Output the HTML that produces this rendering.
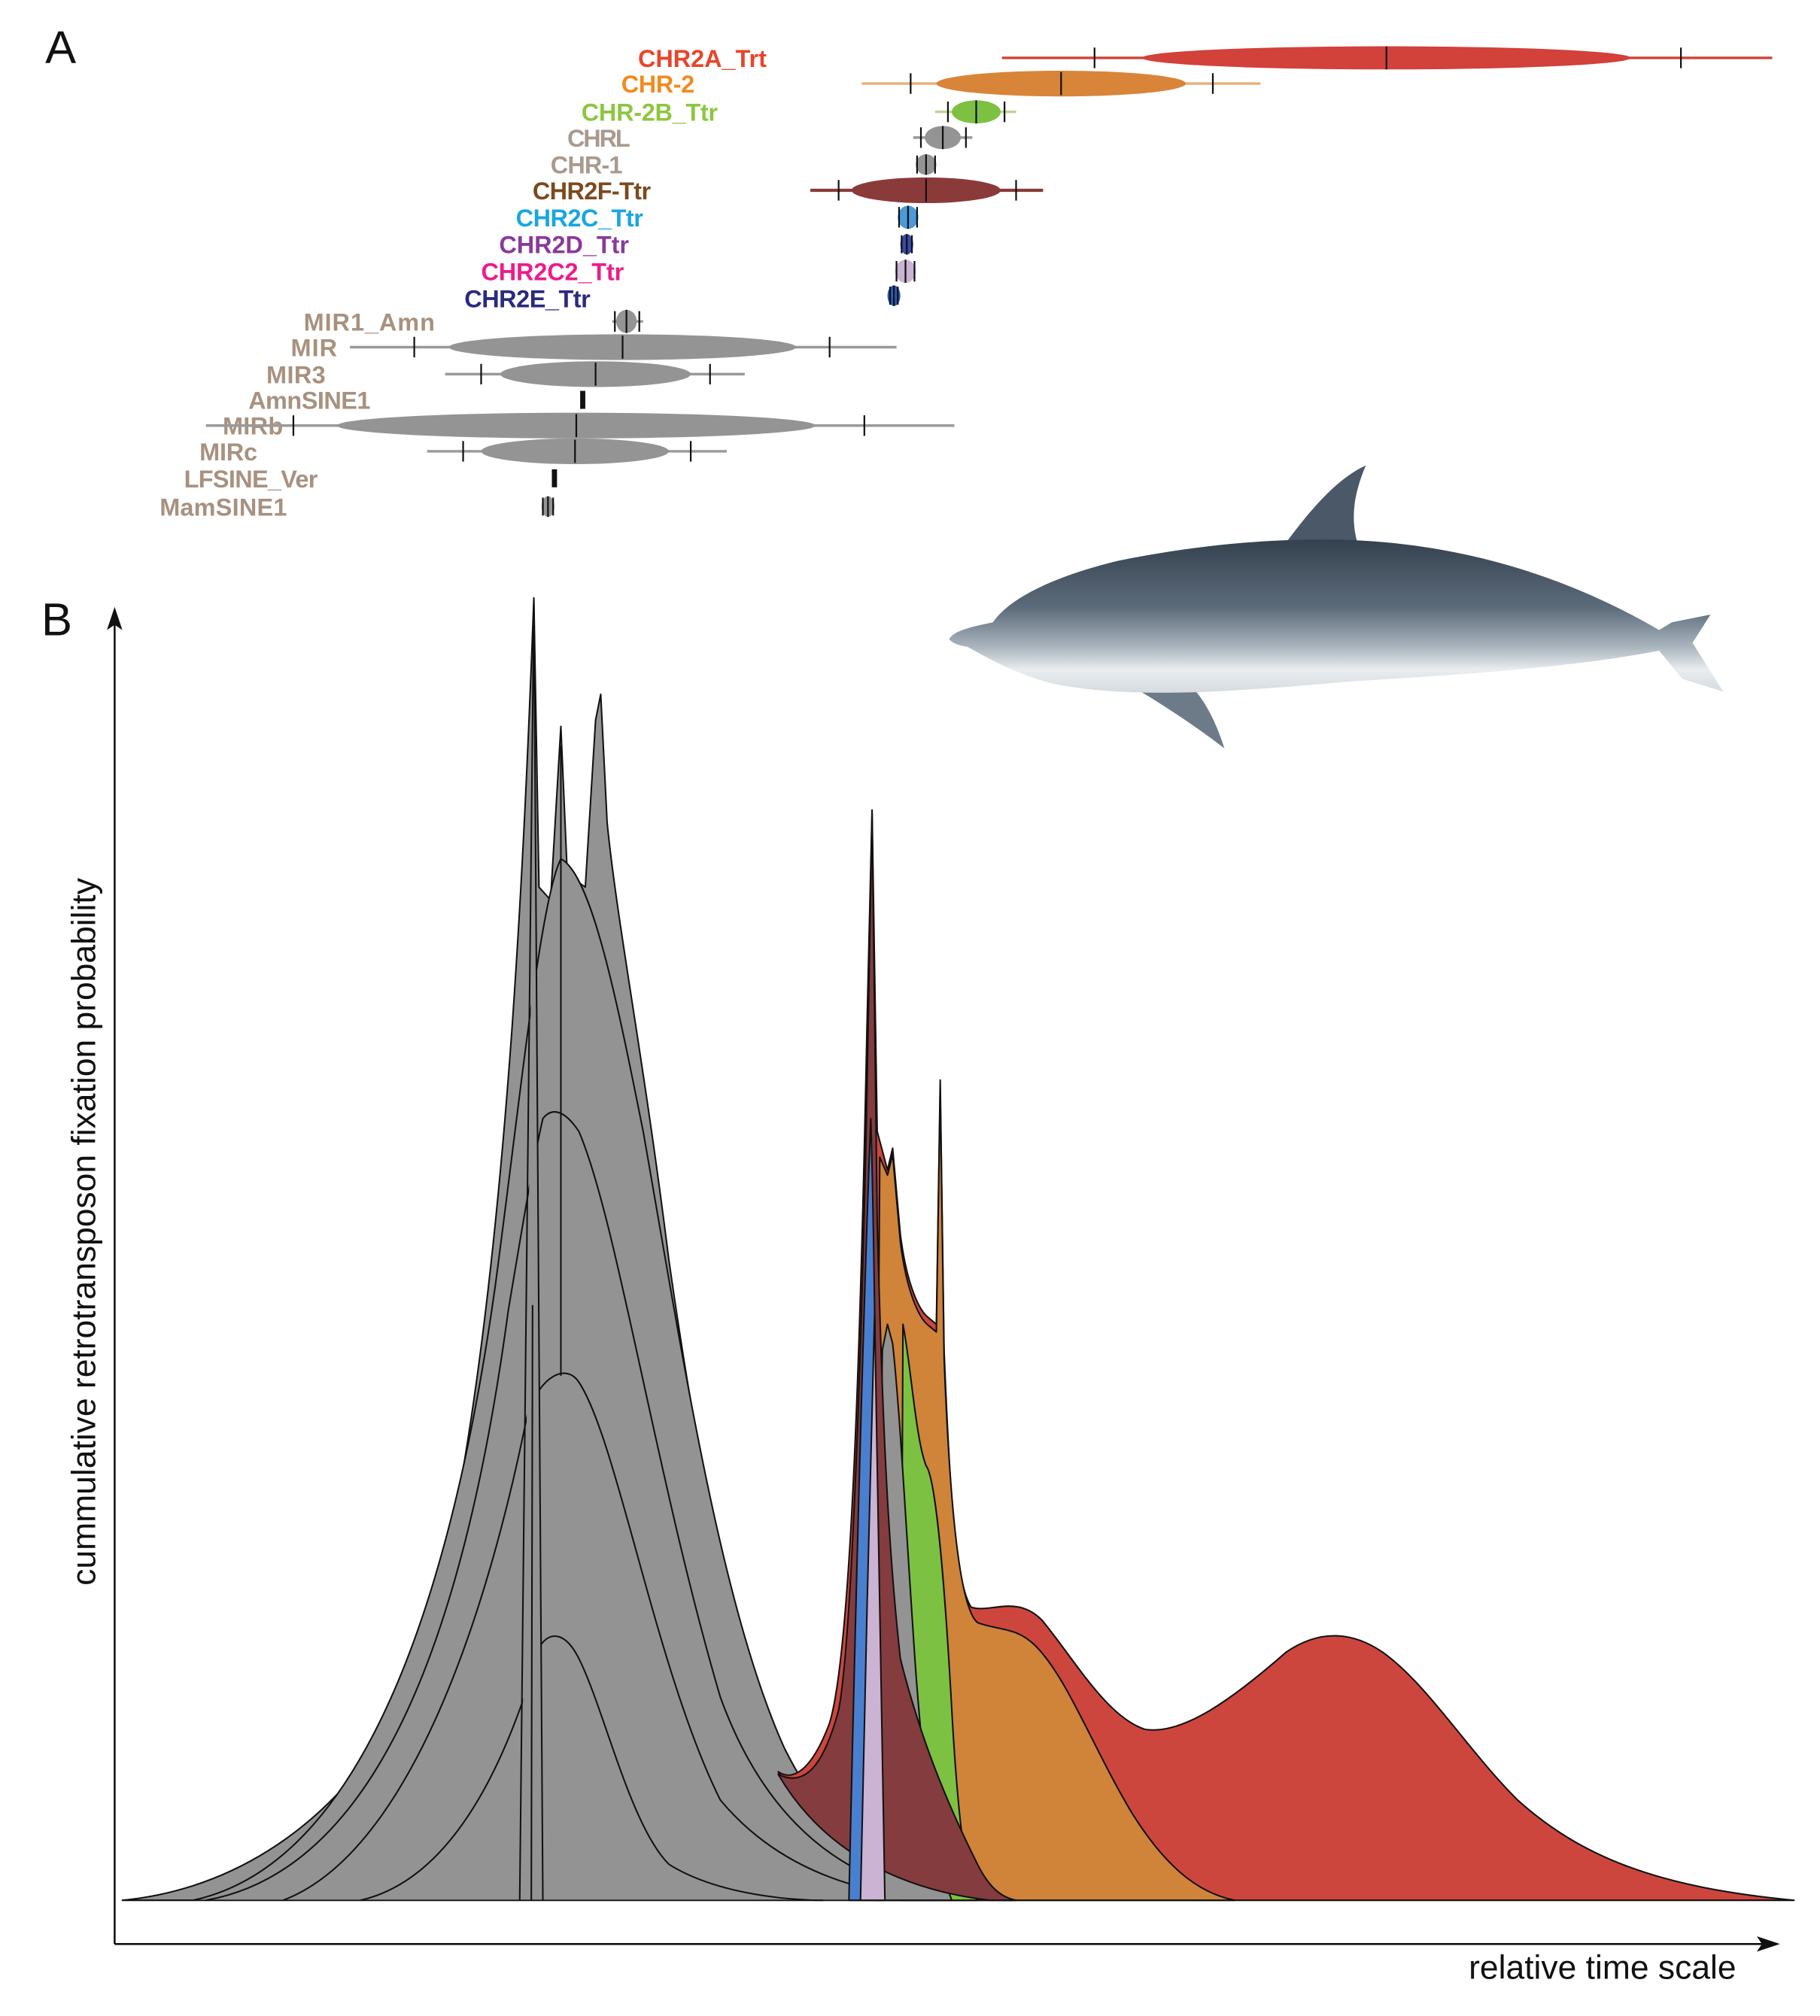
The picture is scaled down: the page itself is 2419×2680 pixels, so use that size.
<!DOCTYPE html>
<html><head><meta charset="utf-8"><style>html,body{margin:0;padding:0;background:#fff}svg{display:block}</style></head>
<body>
<svg width="2419" height="2680" viewBox="0 0 1415 1568" xmlns="http://www.w3.org/2000/svg">
<defs>
<linearGradient id="dg" x1="0" y1="0" x2="0" y2="1">
<stop offset="0" stop-color="#34414f"/><stop offset="0.45" stop-color="#5d6c7b"/><stop offset="0.7" stop-color="#a9b4bd"/><stop offset="0.85" stop-color="#e9edf0"/><stop offset="1" stop-color="#d5dbe0"/>
</linearGradient>
</defs>
<rect width="1415" height="1568" fill="#fff"/>
<text x="35" y="49" font-family="Liberation Sans, sans-serif" font-size="36" fill="#111">A</text>
<text x="32" y="494" font-family="Liberation Sans, sans-serif" font-size="36" fill="#111">B</text>

<g font-family="Liberation Sans, sans-serif" font-weight="bold" font-size="19" text-anchor="end" lengthAdjust="spacingAndGlyphs">
<text x="596" y="52" textLength="100" fill="#e8452a">CHR2A_Trt</text>
<text x="540" y="72" textLength="57" fill="#f08c1e">CHR-2</text>
<text x="558" y="94" textLength="106" fill="#8dc63f">CHR-2B_Ttr</text>
<text x="490" y="114" textLength="49" fill="#a89a8e">CHRL</text>
<text x="484" y="135" textLength="56" fill="#a89a8e">CHR-1</text>
<text x="506" y="155" textLength="92" fill="#7b4a1e">CHR2F-Ttr</text>
<text x="500" y="176" textLength="99" fill="#1aa6e0">CHR2C_Ttr</text>
<text x="489" y="197" textLength="101" fill="#8a3a9a">CHR2D_Ttr</text>
<text x="485" y="218" textLength="111" fill="#ec1c8c">CHR2C2_Ttr</text>
<text x="459" y="239" textLength="98" fill="#2a2a80">CHR2E_Ttr</text>
<g fill="#a8917e">
<text x="338" y="257" textLength="102">MIR1_Amn</text>
<text x="262" y="277" textLength="36">MIR</text>
<text x="253" y="298" textLength="46">MIR3</text>
<text x="288" y="318" textLength="95">AmnSINE1</text>
<text x="220" y="338" textLength="47">MIRb</text>
<text x="200" y="358" textLength="45">MIRc</text>
<text x="247" y="379" textLength="104">LFSINE_Ver</text>
<text x="223" y="401" textLength="99">MamSINE1</text>
</g>
</g>

<g stroke-width="1.3">
<line x1="779" y1="45" x2="1378" y2="45" stroke="#d2413a" stroke-width="2"/>
<ellipse cx="1078" cy="45" rx="190" ry="9" fill="#d2413a"/>
<path d="M851,37v16M1078,36v18M1307,37v16" stroke="#111"/>
<line x1="670" y1="65" x2="980" y2="65" stroke="#e3b276" stroke-width="2"/>
<ellipse cx="825" cy="65" rx="97" ry="10" fill="#d8853a"/>
<path d="M708,57v16M825,56v18M943,57v16" stroke="#111"/>
<line x1="727" y1="87" x2="790" y2="87" stroke="#b8d890" stroke-width="2"/>
<ellipse cx="759" cy="87" rx="19" ry="9" fill="#7dc142"/>
<path d="M737,79v16M759,78v18M781,79v16" stroke="#111"/>
<line x1="710" y1="107" x2="756" y2="107" stroke="#999" stroke-width="2"/>
<ellipse cx="733" cy="107" rx="14" ry="9" fill="#949494"/>
<path d="M716,99v16M733,98v18M751,99v16" stroke="#111"/>
<ellipse cx="720" cy="128" rx="8" ry="8" fill="#949494"/>
<path d="M713,121v14M720,120v16M727,121v14" stroke="#111"/>
<line x1="630" y1="148" x2="811" y2="148" stroke="#8b3a3a" stroke-width="2.5"/>
<ellipse cx="720" cy="148" rx="58" ry="10" fill="#8b3a3a"/>
<path d="M652,140v16M720,139v18M790,140v16" stroke="#111"/>
<ellipse cx="706" cy="169" rx="8" ry="9" fill="#4a9ad8"/>
<path d="M699,161v16M706,160v18M713,161v16" stroke="#111"/>
<ellipse cx="705" cy="190" rx="5" ry="8" fill="#3a4aa8"/>
<path d="M701,183v14M705,182v16M709,183v14" stroke="#111"/>
<ellipse cx="704" cy="211" rx="8" ry="9" fill="#cbb3d3"/>
<path d="M697,203v16M704,202v18M711,203v16" stroke="#111"/>
<ellipse cx="695" cy="230" rx="5" ry="8" fill="#2a5ab8"/>
<path d="M692,223v14M695,222v16M698,223v14" stroke="#111"/>
<line x1="476" y1="250" x2="500" y2="250" stroke="#999" stroke-width="2"/>
<ellipse cx="487" cy="250" rx="8" ry="9" fill="#949494"/>
<path d="M478,242v16M487,241v18M497,242v16" stroke="#111"/>
<line x1="272" y1="270" x2="697" y2="270" stroke="#999" stroke-width="2"/>
<ellipse cx="484" cy="270" rx="135" ry="10" fill="#949494"/>
<path d="M322,262v16M484,261v18M645,262v16" stroke="#111"/>
<line x1="346" y1="291" x2="579" y2="291" stroke="#999" stroke-width="2"/>
<ellipse cx="463" cy="291" rx="74" ry="10" fill="#949494"/>
<path d="M374,283v16M463,282v18M552,283v16" stroke="#111"/>
<rect x="451" y="304" width="4" height="14" fill="#111"/>
<line x1="160" y1="331" x2="742" y2="331" stroke="#999" stroke-width="2"/>
<ellipse cx="448" cy="331" rx="186" ry="10" fill="#949494"/>
<path d="M228,323v16M448,322v18M672,323v16" stroke="#111"/>
<line x1="332" y1="351" x2="565" y2="351" stroke="#999" stroke-width="2"/>
<ellipse cx="447" cy="351" rx="73" ry="10" fill="#949494"/>
<path d="M360,343v16M447,342v18M537,343v16" stroke="#111"/>
<rect x="429" y="365" width="4" height="14" fill="#111"/>
<ellipse cx="426" cy="394" rx="5" ry="8" fill="#949494"/>
<path d="M422,387v14M426,386v16M430,387v14" stroke="#111"/>
</g>

<!-- Dolphin -->
<path d="M1000,422 C1020,395 1040,372 1062,362 C1052,385 1050,405 1056,424 Z" fill="#4a5868"/>
<path d="M870,528 C900,545 930,565 952,582 C945,560 935,540 920,528 Z" fill="#6d7b88"/>
<path d="M738,497 C742,490 758,487 772,484 C785,465 820,448 870,436 C930,424 990,418 1050,420 C1150,424 1230,455 1290,490 L1300,484 L1330,478 L1316,500 L1340,538 L1308,528 L1290,506 C1230,518 1150,524 1050,530 C960,538 880,544 820,532 C790,525 765,510 752,503 C745,502 740,500 738,497 Z" fill="url(#dg)"/>

<g stroke="#111" stroke-width="1.5" fill="none">
<line x1="89" y1="480" x2="89" y2="1512"/>
<line x1="89" y1="1512" x2="1375" y2="1512"/>
</g>
<path d="M89,472 L83,490 L89,486 L95,490 Z" fill="#111"/>
<path d="M1384,1512 L1366,1506 L1370,1512 L1366,1518 Z" fill="#111"/>
<text x="1350" y="1539" text-anchor="end" font-family="Liberation Sans, sans-serif" font-size="26" fill="#111">relative time scale</text>
<text transform="translate(74,958) rotate(-90)" text-anchor="middle" font-family="Liberation Sans, sans-serif" font-size="26" fill="#111">cummulative retrotransposon fixation probability</text>

<g stroke="#111" stroke-width="1.2" stroke-linejoin="round">
<path fill="#939393" d="M95,1478 C180,1470 260,1420 310,1330 C350,1250 380,1050 398,800 C405,700 410,600 415,465 L419,690 L428,700 L436,565 L441,680 L455,690 L463,560 L467,540 L472,640 C480,720 500,820 520,980 C540,1120 565,1260 600,1350 C640,1440 700,1470 790,1478 Z"/>
<path fill="#939393" d="M150,1478 C280,1450 350,1250 385,1000 C405,850 420,700 436,668 C460,680 480,780 500,880 C530,1050 560,1250 610,1360 C650,1440 700,1472 770,1478"/>
<path fill="#939393" d="M160,1478 C290,1455 360,1280 395,1020 C405,960 415,900 422,870 C430,860 440,865 450,880 C480,950 510,1150 560,1320 C600,1430 670,1470 750,1478"/>
<path fill="#939393" d="M220,1478 C320,1440 380,1250 410,1100 C420,1070 440,1060 450,1075 C480,1120 510,1300 560,1400 C610,1460 680,1475 740,1478"/>
<path fill="#939393" d="M280,1478 C360,1460 400,1350 420,1280 C428,1268 440,1270 450,1290 C470,1330 490,1420 520,1450 C560,1475 620,1478 640,1478"/>
<path fill="#939393" d="M404,1478 C409,1200 412,900 415,468 C418,900 420,1200 422,1478"/>
<path fill="none" d="M436,580 L436,1070 M414,1015 L413,1478"/>
<!-- red -->
<path fill="#cd463d" d="M605,1378 C615,1385 630,1380 645,1340 C660,1290 668,1100 674,800 L678,630 L682,880 L690,910 L694,893 L700,960 C705,1000 715,1020 722,1025 L728,1030 L731,840 L734,1050 C738,1150 742,1230 755,1250 C770,1255 790,1240 810,1260 C835,1290 860,1335 890,1345 C920,1350 960,1320 1000,1285 C1025,1268 1050,1268 1075,1285 C1110,1310 1140,1360 1180,1400 C1230,1445 1290,1468 1395,1478 L780,1478 C700,1470 640,1440 605,1378 Z"/>
<!-- orange -->
<path fill="#cf843a" d="M680,1478 L684,900 L690,914 L694,898 L700,966 C705,1006 715,1026 722,1031 L728,1036 L731,846 L734,1056 C738,1160 745,1250 760,1262 C775,1268 790,1265 805,1280 C830,1305 850,1360 880,1410 C905,1450 930,1472 960,1478 Z"/>
<!-- green -->
<path fill="#7dc142" d="M700,1478 L702,1030 C708,1060 712,1120 720,1140 C728,1150 735,1240 740,1330 C745,1420 752,1470 760,1478 Z"/>
<!-- gray CHRL -->
<path fill="#939393" d="M680,1478 L686,1050 L690,1030 L694,1045 C700,1100 705,1200 712,1300 C718,1380 725,1440 740,1478 Z"/>
<!-- brown -->
<path fill="#853c3e" d="M605,1380 C625,1390 640,1375 652,1330 C662,1280 670,1050 674,850 L678,632 L682,950 C686,1100 690,1200 700,1290 C715,1350 735,1400 760,1450 C770,1470 780,1476 790,1478 L770,1478 C700,1470 640,1440 605,1380 Z"/>
<!-- blue -->
<path fill="#4a7fd0" d="M660,1478 C664,1300 670,1050 677,870 C681,1000 683,1300 684,1478 Z"/>
<!-- lilac -->
<path fill="#cbb3d3" d="M669,1478 C672,1350 676,1150 680,1020 C683,1200 686,1400 688,1478 Z"/>
</g>
<line x1="95" y1="1478" x2="1395" y2="1478" stroke="#111" stroke-width="1"/>
</svg>
</body></html>
